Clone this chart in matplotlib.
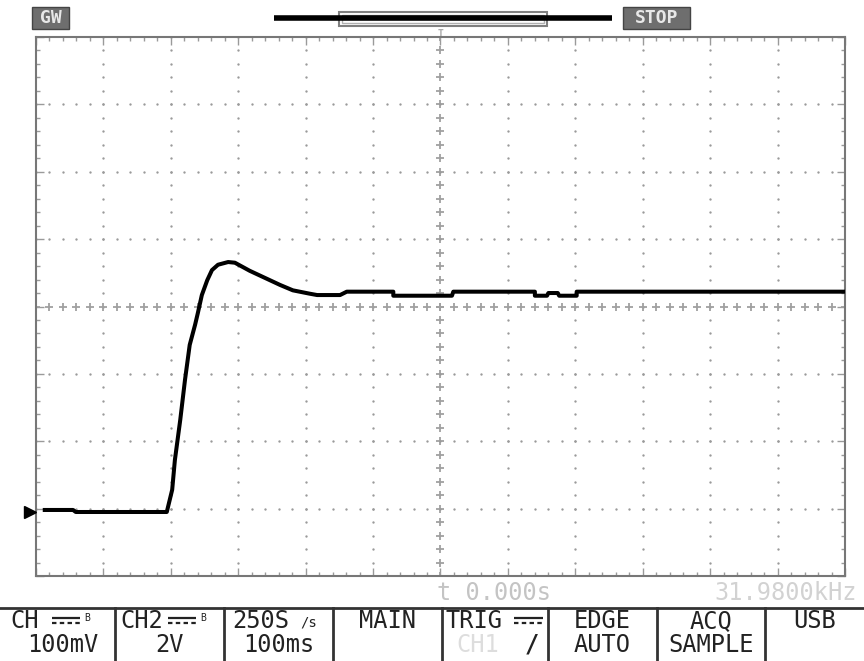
import numpy as np
import matplotlib
matplotlib.use("Agg")
import matplotlib.pyplot as plt
from matplotlib.patches import Rectangle

# trace: time in ms (100 ms/div), level in mV (100 mV/div)
time_ms = [-587, -545, -541, -406, -398, -394, -386, -379, -372, -364, -360,
           -354, -346, -339, -330, -315, -305, -283, -253, -238, -219, -194,
           -183, -149, -139, -70, -70, 17, 19, 140, 140, 158, 160, 174, 176,
           202, 202, 597]
volt_mv = [-302, -302, -305, -305, -272, -228, -168, -109, -57, -27, -10,
           17, 39, 54, 62, 66, 65, 53, 39, 32, 24, 19,
           17, 17, 22, 22, 16, 16, 22, 22, 16, 16, 20, 20, 16,
           16, 22, 22]
ground_mv = -305

# bottom menu
menu_top = ["CH", "CH2", "250S", "MAIN", "TRIG", "EDGE", "ACQ", "USB"]
menu_bottom = ["100mV", "2V", "100ms", "", "", "AUTO", "SAMPLE", ""]
menu_sep = [115, 224, 333, 442, 548, 657, 765]

W, H = 864, 661
mono = ["DejaVu Sans Mono", "DejaVu Sans"]
grid_col = "#9a9a9a"
ink = "#222222"

fig = plt.figure(figsize=(W / 100, H / 100), dpi=100)
fig.patch.set_facecolor("white")

# screen area: 12 x 8 divisions
ax = fig.add_axes([36 / W, (H - 576) / H, 809 / W, 539 / H])
ax.set_xlim(-600, 600)
ax.set_ylim(-400, 400)
ax.set_xticks(np.arange(-600, 601, 100))
ax.set_xticks(np.arange(-600, 601, 20), minor=True)
ax.set_yticks(np.arange(-400, 401, 100))
ax.set_yticks(np.arange(-400, 401, 20), minor=True)
ax.tick_params(which="both", direction="in", top=True, right=True,
               labelbottom=False, labelleft=False, colors=grid_col, width=1)
ax.tick_params(which="major", length=6)
ax.tick_params(which="minor", length=3)
for s in ax.spines.values():
    s.set_color("#777777")
    s.set_linewidth(1.5)

# dotted graticule
ys = np.arange(-400, 401, 20)
xs = np.arange(-600, 601, 20)
for xv in range(-500, 501, 100):
    if xv == 0:
        ax.plot(np.zeros_like(ys), ys, ls="none", marker="+", ms=6, mew=1.3,
                color="#a0a0a0")
    else:
        ax.plot(np.full_like(ys, xv), ys, ls="none", marker="o", ms=1.7,
                mew=0, color=grid_col)
for yv in range(-300, 301, 100):
    if yv == 0:
        ax.plot(xs, np.zeros_like(xs), ls="none", marker="+", ms=6, mew=1.3,
                color="#a0a0a0")
    else:
        ax.plot(xs, np.full_like(xs, yv), ls="none", marker="o", ms=1.7,
                mew=0, color=grid_col)

ax.plot(time_ms, volt_mv, color="black", lw=2.9, solid_joinstyle="round",
        zorder=5)
ax.plot([-609], [ground_mv], marker=">", ms=9, color="black", clip_on=False,
        zorder=6)

# overlay in pixel units for the status bars
ov = fig.add_axes([0, 0, 1, 1], zorder=-1)
ov.set_xlim(0, W)
ov.set_ylim(H, 0)
ov.axis("off")


def dc_symbol(x0, x1, y):
    # DC coupling sign: solid bar over a dashed bar
    ov.plot([x0, x1], [y - 3, y - 3], color=ink, lw=1.6, solid_capstyle="butt")
    ov.plot([x0, x1], [y + 2, y + 2], color=ink, lw=1.6, ls=(0, (2, 1.5)))


# top bar
ov.add_patch(Rectangle((32, 7), 37, 22, facecolor="#6e6e6e", edgecolor="#444444"))
ov.text(50.5, 18, "GW", color="#e8e8e8", fontsize=13, family=mono,
        ha="center", va="center", fontweight="bold")
ov.add_patch(Rectangle((623, 7), 67, 22, facecolor="#6e6e6e", edgecolor="#444444"))
ov.text(656.5, 18, "STOP", color="#e8e8e8", fontsize=13, family=mono,
        ha="center", va="center", fontweight="bold")
ov.plot([274, 612], [18, 18], color="black", lw=4, solid_capstyle="butt")
ov.add_patch(Rectangle((339, 12), 208, 14, facecolor="none",
                       edgecolor="#808080", lw=1.5))
ov.add_patch(Rectangle((342, 15), 202, 8, facecolor="none",
                       edgecolor="#b0b0b0", lw=1))
ov.plot([342, 544], [18, 18], color="black", lw=3, solid_capstyle="butt")
ov.text(441, 34, "T", color="#aaaaaa", fontsize=7, family=mono,
        ha="center", va="center", fontweight="bold")

# readouts under the screen
ov.text(437, 593, "t 0.000s", color="#c4c4c4", fontsize=17, family=mono,
        ha="left", va="center")
ov.text(714, 593, "31.9800kHz", color="#d2d2d2", fontsize=17, family=mono,
        ha="left", va="center")

# menu
ov.plot([0, W], [608, 608], color="#333333", lw=2)
for xv in menu_sep:
    ov.plot([xv, xv], [608, H], color="#333333", lw=2)
edges = [0] + menu_sep + [W]
for i in range(len(menu_top)):
    cx = (edges[i] + edges[i + 1]) / 2
    top = menu_top[i]
    if i in (0, 1):
        ov.text(edges[i] + (10 if i == 0 else 5), 621, top, color=ink,
                fontsize=17, family=mono, ha="left", va="center")
        x0 = edges[i] + (52 if i == 0 else 53)
        dc_symbol(x0, x0 + 28, 621)
        ov.text(x0 + 32, 618, "B", color=ink, fontsize=7,
                family=mono, ha="left", va="center")
    elif i == 2:
        ov.text(edges[i] + 8, 621, top, color=ink, fontsize=17,
                family=mono, ha="left", va="center")
        ov.text(edges[i] + 76, 622, "/s", color=ink, fontsize=10,
                family=mono, ha="left", va="center")
    elif i == 4:
        ov.text(edges[i] + 4, 621, top, color=ink, fontsize=17,
                family=mono, ha="left", va="center")
        dc_symbol(edges[i] + 72, edges[i + 1] - 5, 621)
        ov.text(edges[i] + 14, 645, "CH1", color="#dddddd", fontsize=17,
                family=mono, ha="left", va="center")
        ov.text(edges[i + 1] - 16, 645, "/", color=ink, fontsize=17,
                family=mono, ha="center", va="center", fontweight="bold")
    else:
        ov.text(cx, 621, top, color=ink, fontsize=17, family=mono,
                ha="center", va="center")
    if menu_bottom[i]:
        ov.text(cx + (5 if i == 0 else 0), 645, menu_bottom[i],
                color=ink, fontsize=17, family=mono,
                ha="center", va="center")

fig.savefig("out.png", dpi=100, facecolor="white")
